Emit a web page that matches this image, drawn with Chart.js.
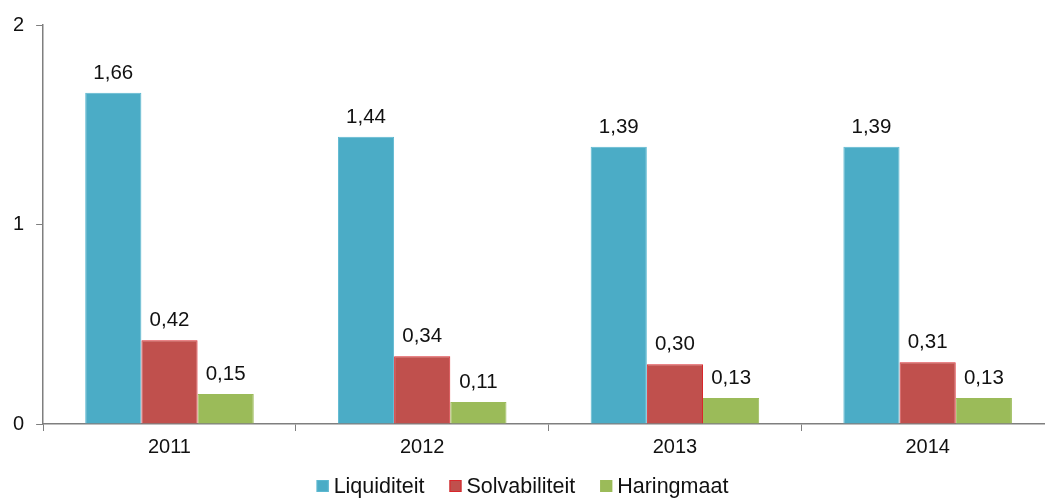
<!DOCTYPE html>
<html>
<head>
<meta charset="utf-8">
<script src="https://cdn.jsdelivr.net/npm/chart.js@4/dist/chart.umd.min.js"></script>
<style>
  html, body { margin: 0; padding: 0; background: #fff; overflow: hidden; }
  #wrap { position: absolute; left: 0; top: 0; width: 1054px; height: 498px; }
</style>
</head>
<body>
<div id="wrap"><canvas id="cv"></canvas></div>
<script>
// jaren en reeksen
const jaren = ["2011", "2012", "2013", "2014"];
const liquiditeit = [1.66, 1.44, 1.39, 1.39];
const solvabiliteit = [0.42, 0.34, 0.30, 0.31];
const haringmaat = [0.15, 0.11, 0.13, 0.13];
const yTicks = [0, 1, 2];

const tekst = "#111";
const asKleur = "#7f7f7f";
const lettertype = "'Liberation Sans', Arial, sans-serif";

// waarden boven de staven (komma als decimaalteken)
const waardeLabels = {
  id: "waardeLabels",
  afterDatasetsDraw(chart) {
    const ctx = chart.ctx;
    ctx.save();
    ctx.font = "20.5px " + lettertype;
    ctx.fillStyle = tekst;
    ctx.textAlign = "center";
    ctx.textBaseline = "alphabetic";
    chart.data.datasets.forEach((ds, i) => {
      chart.getDatasetMeta(i).data.forEach((bar, j) => {
        ctx.fillText(ds.data[j].toFixed(2).replace(".", ","), bar.x, bar.y - 14);
      });
    });
    ctx.restore();
  }
};

// eigen legenda onderaan (klein vakje dicht bij de tekst)
const legenda = {
  id: "legenda",
  afterDraw(chart) {
    const ctx = chart.ctx;
    const ds = chart.data.datasets;
    ctx.save();
    ctx.font = "21.5px " + lettertype;
    const box = 12, gap = 5, tussen = 25;
    const breedtes = ds.map(d => ctx.measureText(d.label).width);
    let totaal = breedtes.reduce((a, b) => a + b, 0) + ds.length * (box + gap) + (ds.length - 1) * tussen;
    let x = 1045 / 2 - totaal / 2;
    const basis = 493;
    ds.forEach((d, i) => {
      ctx.fillStyle = d.backgroundColor;
      ctx.fillRect(x, basis - 13, box, box);
      ctx.strokeStyle = d.borderColor;
      ctx.lineWidth = 1;
      ctx.strokeRect(x + 0.5, basis - 12.5, box - 1, box - 1);
      x += box + gap;
      ctx.fillStyle = tekst;
      ctx.textBaseline = "alphabetic";
      ctx.fillText(d.label, x, basis);
      x += breedtes[i] + tussen;
    });
    ctx.restore();
  }
};

new Chart(document.getElementById("cv"), {
  type: "bar",
  data: {
    labels: jaren,
    datasets: [
      { label: "Liquiditeit", data: liquiditeit, backgroundColor: "#4bacc6", borderColor: "#5bb8d0", borderWidth: 1 },
      { label: "Solvabiliteit", data: solvabiliteit, backgroundColor: "#c0504d", borderColor: "#d9262b", borderWidth: 1 },
      { label: "Haringmaat", data: haringmaat, backgroundColor: "#9bbb59", borderColor: "#9bbb59", borderWidth: 1 }
    ]
  },
  options: {
    responsive: true,
    maintainAspectRatio: false,
    animation: false,
    categoryPercentage: 0.667,
    barPercentage: 1,
    layout: { padding: { left: 1, top: 25, right: 0, bottom: 35 } },
    plugins: {
      tooltip: { enabled: false },
      legend: { display: false }
    },
    scales: {
      x: {
        grid: { offset: true, drawOnChartArea: false, drawTicks: true, tickLength: 7, color: asKleur },
        border: { color: asKleur, width: 1.5 },
        ticks: { color: tekst, font: { family: lettertype, size: 20 }, padding: 4 }
      },
      y: {
        min: 0,
        max: 2,
        afterBuildTicks: (axis) => { axis.ticks = yTicks.map(v => ({ value: v })); },
        grid: { drawOnChartArea: false, drawTicks: true, tickLength: 7, color: asKleur },
        border: { color: asKleur, width: 1.5 },
        ticks: { color: tekst, font: { family: lettertype, size: 20 }, padding: 12 }
      }
    }
  },
  plugins: [waardeLabels, legenda]
});
</script>
</body>
</html>
